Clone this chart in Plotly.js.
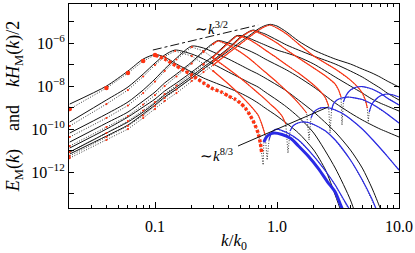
<!DOCTYPE html>
<html><head><meta charset="utf-8">
<script src="https://cdn.plot.ly/plotly-3.0.1.min.js"></script>
<style>html,body{margin:0;padding:0;background:#fff}#c{width:415px;height:253px}</style>
</head><body><div id="c"></div>
<script>
// ---- snapshot 1 (earliest) ----
const s1_kE = [0.02,0.04,0.06,0.08,0.1,0.12,0.15,0.2,0.25,0.3,0.4,0.5,0.6,0.7,0.8,0.88,1,1.2,1.5,2,3,4,5,6,7,8,10];
const s1_E  = [7.10e-12,4.88e-11,1.58e-10,5.15e-10,1.35e-9,3.18e-9,7.48e-9,2.43e-8,6.38e-8,1.35e-7,4.39e-7,1.15e-6,2.43e-6,4.62e-6,6.73e-6,7.65e-6,6.38e-6,3.36e-6,1.28e-6,4.88e-7,1.86e-7,1.09e-7,6.38e-8,4.16e-8,2.71e-8,1.77e-8,9.27e-9];
const s1_kHp = [0.02,0.04,0.06,0.08,0.1,0.12,0.15,0.2,0.25,0.3,0.4,0.5,0.6,0.7,0.8,0.88,1,1.2,1.5,2,3,4,4.6,5,5.3,5.5];
const s1_Hp  = [4.62e-12,3.18e-11,1.03e-10,3.36e-10,8.79e-10,2.07e-9,4.88e-9,1.77e-8,4.62e-8,9.79e-8,3.54e-7,9.27e-7,2.07e-6,3.94e-6,6.04e-6,7.10e-6,5.15e-6,2.71e-6,9.27e-7,2.56e-7,6.38e-8,1.96e-8,9.27e-9,4.88e-9,2.31e-9,9.79e-10];
const s1_kDip = [5.6], s1_dip = [2.19e-10];
const s1_kHn = [5.7,6,6.5,7,7.5,8,9,10];
const s1_Hn  = [6.38e-10,1.50e-9,2.56e-9,3.54e-9,4.16e-9,4.39e-9,3.94e-9,3.18e-9];

// ---- snapshot 2 ----
const s2_kE = [0.02,0.04,0.06,0.08,0.1,0.12,0.15,0.2,0.25,0.3,0.4,0.5,0.6,0.64,0.7,0.8,1,1.2,1.5,2,3,4,5,6,7,8,10];
const s2_E  = [8.79e-12,6.73e-11,2.19e-10,6.38e-10,1.67e-9,3.94e-9,9.27e-9,3.01e-8,7.91e-8,1.67e-7,6.04e-7,1.96e-6,3.73e-6,4.16e-6,3.54e-6,2.71e-6,1.43e-6,8.34e-7,4.88e-7,2.56e-7,1.09e-7,5.15e-8,2.71e-8,1.43e-8,8.34e-9,4.88e-9,2.31e-9];
const s2_kHp = [0.02,0.04,0.06,0.08,0.1,0.12,0.15,0.2,0.25,0.3,0.4,0.5,0.6,0.64,0.7,0.8,1,1.2,1.5,2,2.5,3,3.2,3.35];
const s2_Hp  = [5.73e-12,4.39e-11,1.43e-10,4.39e-10,1.21e-9,2.86e-9,7.10e-9,2.43e-8,6.38e-8,1.43e-7,5.43e-7,1.77e-6,3.54e-6,3.94e-6,3.18e-6,2.19e-6,1.03e-6,4.88e-7,2.07e-7,7.10e-8,3.01e-8,1.28e-8,6.73e-9,3.18e-9];
const s2_kDip = [3.41], s2_dip = [1.58e-10];
const s2_kHn = [3.5,3.7,4,4.5,5,5.5,6,7,8,10];
const s2_Hn  = [1.86e-9,3.94e-9,6.73e-9,9.27e-9,9.79e-9,8.79e-9,7.48e-9,4.88e-9,2.86e-9,1.35e-9];

// ---- snapshot 3 ----
const s3_kE = [0.02,0.04,0.06,0.08,0.1,0.12,0.15,0.2,0.25,0.3,0.4,0.47,0.55,0.6,0.7,0.8,1,1.2,1.5,2,3,4,5,6,7,8,10];
const s3_E  = [1.35e-11,1.03e-10,3.73e-10,1.09e-9,2.56e-9,6.04e-9,1.43e-8,4.62e-8,1.21e-7,2.56e-7,1.15e-6,2.31e-6,2.07e-6,1.67e-6,1.15e-6,8.34e-7,4.88e-7,3.54e-7,2.31e-7,1.09e-7,2.71e-8,1.03e-8,4.88e-9,2.56e-9,1.67e-9,1.21e-9,7.10e-10];
const s3_kHp = [0.02,0.04,0.06,0.08,0.1,0.12,0.15,0.2,0.25,0.3,0.4,0.47,0.55,0.6,0.7,0.8,1,1.2,1.5,2,2.3,2.5,2.65];
const s3_Hp  = [8.79e-12,6.73e-11,2.43e-10,7.48e-10,1.86e-9,4.39e-9,1.09e-8,3.73e-8,1.03e-7,2.31e-7,1.03e-6,2.19e-6,1.77e-6,1.43e-6,8.34e-7,4.88e-7,2.07e-7,9.79e-8,4.16e-8,1.15e-8,5.43e-9,2.86e-9,1.21e-9];
const s3_kDip = [2.72], s3_dip = [6.73e-11];
const s3_kHn = [2.8,2.9,3.1,3.4,3.8,4.2,5,6,7,8,10];
const s3_Hn  = [7.91e-10,1.50e-9,2.31e-9,2.86e-9,3.18e-9,3.01e-9,2.43e-9,1.50e-9,8.79e-10,5.15e-10,1.96e-10];

// ---- snapshot 4 ----
const s4_kE = [0.02,0.04,0.06,0.08,0.1,0.12,0.15,0.2,0.25,0.3,0.33,0.4,0.5,0.6,0.7,0.8,1,1.2,1.5,2,3,4,5,6,7,8,10];
const s4_E  = [2.56e-11,1.96e-10,6.38e-10,2.07e-9,5.43e-9,1.43e-8,3.73e-8,1.35e-7,4.39e-7,1.03e-6,1.35e-6,1.03e-6,6.73e-7,4.39e-7,2.86e-7,1.86e-7,9.79e-8,5.73e-8,2.71e-8,9.27e-9,1.67e-9,5.73e-10,2.71e-10,1.58e-10,1.03e-10,7.48e-11,4.39e-11];
const s4_kHp = [0.02,0.04,0.06,0.08,0.1,0.12,0.15,0.2,0.25,0.3,0.33,0.4,0.5,0.6,0.7,0.8,1,1.2,1.4,1.6,1.75];
const s4_Hp  = [1.67e-11,1.28e-10,4.16e-10,1.43e-9,3.94e-9,1.03e-8,2.86e-8,1.15e-7,3.94e-7,9.27e-7,1.28e-6,8.34e-7,3.94e-7,1.86e-7,8.79e-8,4.62e-8,1.58e-8,6.04e-9,2.56e-9,1.09e-9,5.73e-10];
const s4_kDip = [1.83], s4_dip = [3.18e-11];
const s4_kHn = [1.9,2,2.2,2.4,2.7,3,3.5,4,5,6,7,8,10];
const s4_Hn  = [3.36e-10,6.38e-10,9.27e-10,1.03e-9,9.79e-10,7.91e-10,5.15e-10,3.01e-10,1.03e-10,3.54e-11,1.35e-11,5.73e-12,1.28e-12];

// ---- snapshot 5 ----
const s5_kE = [0.02,0.04,0.06,0.08,0.1,0.12,0.15,0.2,0.25,0.3,0.4,0.5,0.6,0.7,0.8,1,1.2,1.5,2,3,4,5,6,7,7.5];
const s5_E  = [6.73e-11,5.15e-10,1.86e-9,6.73e-9,2.19e-8,6.38e-8,2.07e-7,7.48e-7,6.04e-7,3.94e-7,1.86e-7,9.79e-8,5.73e-8,3.73e-8,2.43e-8,1.15e-8,6.04e-9,2.31e-9,6.38e-10,7.48e-11,1.09e-11,1.58e-12,1.86e-13,2.19e-14,7.48e-15];
const s5_kHp = [0.02,0.04,0.06,0.08,0.1,0.12,0.15,0.2,0.25,0.3,0.4,0.5,0.6,0.7,0.8,0.9,1,1.1,1.18];
const s5_Hp  = [4.39e-11,3.36e-10,1.28e-9,4.88e-9,1.67e-8,5.15e-8,1.77e-7,6.73e-7,4.39e-7,2.07e-7,6.38e-8,2.43e-8,1.03e-8,4.88e-9,2.56e-9,1.35e-9,7.91e-10,4.16e-10,1.77e-10];
const s5_kDip = [1.23], s5_dip = [7.91e-12];
const s5_kHn = [1.28,1.35,1.45,1.6,1.8,2,2.5,3,4,5,6,6.5,7];
const s5_Hn  = [8.34e-11,1.43e-10,1.86e-10,2.19e-10,2.07e-10,1.67e-10,8.34e-11,3.18e-11,3.73e-12,4.39e-13,5.73e-14,1.96e-14,7.48e-15];

// ---- snapshot 6 ----
const s6_kE = [0.02,0.04,0.06,0.08,0.1,0.12,0.146,0.2,0.25,0.3,0.4,0.5,0.6,0.7,0.8,1,1.2,1.5,2,3,4,4.5];
const s6_E  = [2.19e-10,2.31e-9,9.27e-9,3.73e-8,1.21e-7,2.86e-7,4.88e-7,3.18e-7,1.86e-7,1.09e-7,4.62e-8,2.43e-8,1.43e-8,9.27e-9,5.43e-9,2.31e-9,1.09e-9,3.73e-10,6.73e-11,1.58e-12,5.15e-14,7.48e-15];
const s6_kHp = [0.02,0.04,0.06,0.08,0.1,0.12,0.146,0.2,0.25,0.3,0.4,0.5,0.6,0.7,0.75,0.8];
const s6_Hp  = [1.43e-10,1.50e-9,6.73e-9,2.86e-8,9.79e-8,2.43e-7,4.39e-7,2.56e-7,1.09e-7,5.15e-8,1.28e-8,3.94e-9,1.35e-9,4.62e-10,1.77e-10,5.43e-11];
const s6_kDip = [0.83], s6_dip = [3.73e-12];
const s6_kHn = [0.86,0.9,0.95,1,1.2,1.5,2,2.5,3,3.5,4,4.3];
const s6_Hn  = [3.18e-11,6.73e-11,9.27e-11,1.03e-10,7.10e-11,3.18e-11,5.73e-12,1.15e-12,2.56e-13,5.73e-14,1.58e-14,6.73e-15];

// ---- snapshot 7 (latest, thick) ----
const s7_kE = [0.02,0.04,0.06,0.08,0.1,0.12,0.15,0.2,0.25,0.3,0.4,0.5,0.6,0.7,0.8,1,1.5,2,2.5,3,3.5];
const s7_E  = [1.50e-9,1.03e-8,5.15e-8,1.86e-7,3.01e-7,2.31e-7,1.09e-7,4.62e-8,2.43e-8,1.58e-8,8.34e-9,4.88e-9,2.86e-9,1.67e-9,9.79e-10,4.16e-10,6.73e-11,1.09e-11,1.28e-12,8.79e-14,7.48e-15];
const s7_kHp = [0.02,0.04,0.06,0.08,0.1,0.12,0.15,0.2,0.25,0.3,0.35,0.4,0.45,0.5,0.55,0.6,0.65,0.7,0.73,0.75];
const s7_Hp  = [8.79e-10,8.34e-9,4.16e-8,1.50e-7,2.86e-7,1.86e-7,8.79e-8,3.36e-8,1.43e-8,7.48e-9,5.43e-9,3.54e-9,2.56e-9,1.67e-9,9.79e-10,4.62e-10,1.96e-10,6.73e-11,2.31e-11,7.91e-12];
const s7_kDip = [0.77], s7_dip = [2.19e-12];
const s7_kHn = [0.78,0.82,0.88,0.95,1.1,1.3,1.5,1.8,2.2,2.6,3,3.3,3.6];
const s7_Hn  = [2.56e-11,4.39e-11,6.04e-11,6.73e-11,5.73e-11,3.73e-11,1.67e-11,5.73e-12,1.42e-12,3.54e-13,1.21e-13,3.36e-14,1.03e-14];

// ---- guide lines ----
const guide32_k = [0.096, 0.70], guide32_E = [4.88e-7, 7.10e-6];
const guide83_k = [0.479, 2.62], guide83_E = [1.67e-11, 1.09e-9];

// ---- ticks ----
const xMajor = [0.1, 1, 10];
const xLabels = ['0.1', '1.0', '10.0'];
const xMinor = [0.02,0.03,0.04,0.05,0.06,0.07,0.08,0.09,0.2,0.3,0.4,0.5,0.6,0.7,0.8,0.9,2,3,4,5,6,7,8,9];
const yMajor = [1e-12,1e-10,1e-8,1e-6];
const yLabels = ['10<sup>\u221212</sup>','10<sup>\u221210</sup>','10<sup>\u22128</sup>','10<sup>\u22126</sup>'];
const yMinor = [1e-13,1e-11,1e-9,1e-7,1e-5];

const snaps = [
  {kE:s1_kE,E:s1_E,kHp:s1_kHp,Hp:s1_Hp,kDip:s1_kDip,dip:s1_dip,kHn:s1_kHn,Hn:s1_Hn,thick:false},
  {kE:s2_kE,E:s2_E,kHp:s2_kHp,Hp:s2_Hp,kDip:s2_kDip,dip:s2_dip,kHn:s2_kHn,Hn:s2_Hn,thick:false},
  {kE:s3_kE,E:s3_E,kHp:s3_kHp,Hp:s3_Hp,kDip:s3_kDip,dip:s3_dip,kHn:s3_kHn,Hn:s3_Hn,thick:false},
  {kE:s4_kE,E:s4_E,kHp:s4_kHp,Hp:s4_Hp,kDip:s4_kDip,dip:s4_dip,kHn:s4_kHn,Hn:s4_Hn,thick:false},
  {kE:s5_kE,E:s5_E,kHp:s5_kHp,Hp:s5_Hp,kDip:s5_kDip,dip:s5_dip,kHn:s5_kHn,Hn:s5_Hn,thick:false},
  {kE:s6_kE,E:s6_E,kHp:s6_kHp,Hp:s6_Hp,kDip:s6_kDip,dip:s6_dip,kHn:s6_kHn,Hn:s6_Hn,thick:false},
  {kE:s7_kE,E:s7_E,kHp:s7_kHp,Hp:s7_Hp,kDip:s7_kDip,dip:s7_dip,kHn:s7_kHn,Hn:s7_Hn,thick:true}
];

const RED = '#ff3311', BLUE = '#2a2ae6', BLK = '#111111';
const traces = [];
snaps.forEach(s => {
  traces.push({x:s.kE, y:s.E, mode:'lines', hoverinfo:'skip',
    line:{color:BLK, width:1, shape:'spline', smoothing:0.7}});
});
snaps.forEach(s => {
  traces.push({x:[...s.kHp, ...s.kDip, ...s.kHn], y:[...s.Hp, ...s.dip, ...s.Hn],
    mode:'lines', hoverinfo:'skip', line:{color:'#222', width:0.9, dash:'1px,1.6px'}});
});
snaps.forEach(s => {
  const cut = s.thick ? 0.1 : 0.3;
  const lowK = s.kHp.filter(k => k <= cut);
  const lowH = s.Hp.filter((v, i) => s.kHp[i] <= cut);
  const hiK = s.kHp.filter(k => k >= cut);
  const hiH = s.Hp.filter((v, i) => s.kHp[i] >= cut);
  traces.push({x:lowK, y:lowH, mode:'markers', hoverinfo:'skip',
    marker:{color:RED, size:s.thick ? 4.5 : 2.2}});
  traces.push({x:hiK, y:hiH, mode:'lines', hoverinfo:'skip',
    line:{color:RED, width:s.thick ? 3.5 : 1.1, shape:'spline', smoothing:0.6, dash:s.thick ? '3px,2px' : 'solid'}});
  traces.push({x:s.kHn, y:s.Hn, mode:'lines', hoverinfo:'skip',
    line:{color:BLUE, width:s.thick ? 3 : 1.2, shape:'spline', smoothing:0.6}});
});
traces.push({x:guide32_k, y:guide32_E, mode:'lines', hoverinfo:'skip', line:{color:BLK, width:1, dash:'dashdot'}});
traces.push({x:guide83_k, y:guide83_E, mode:'lines', hoverinfo:'skip', line:{color:BLK, width:1}});

const axisCommon = {type:'log', ticks:'inside', tickcolor:'#000', showline:true, linecolor:'#000',
  linewidth:1, mirror:'ticks', showgrid:false, zeroline:false};

const layout = {
  width:415, height:253, margin:{l:69, r:16, t:4, b:45},
  paper_bgcolor:'#fff', plot_bgcolor:'#fff', showlegend:false,
  font:{family:'Liberation Serif, serif', size:16, color:'#000'},
  xaxis:Object.assign({}, axisCommon, {
    range:[-1.705, 1], tickmode:'array', tickvals:xMajor, ticktext:xLabels, ticklen:6,
    minor:{tickmode:'array', tickvals:xMinor, ticks:'inside', ticklen:3, tickcolor:'#000', showgrid:false},
    ticklabelstandoff:4,
    title:{text:'<i>k</i>/<i>k</i><sub>0</sub>', font:{size:17}, standoff:2}
  }),
  yaxis:Object.assign({}, axisCommon, {
    range:[-13.66, -4.17], tickmode:'array', tickvals:yMajor, ticktext:yLabels, ticklen:5,
    minor:{tickmode:'array', tickvals:yMinor, ticks:'inside', ticklen:5, tickcolor:'#000', showgrid:false},
    title:{text:'<i>E</i><sub>M</sub>(<i>k</i>)\u00a0\u00a0\u00a0 and \u00a0\u00a0\u00a0<i>kH</i><sub>M</sub>(<i>k</i>)/2', font:{size:18}, standoff:6}
  }),
  annotations:[
    {x:Math.log10(0.293), y:Math.log10(5.4e-6), xref:'x', yref:'y', text:'\u223C<i>k</i><sup>3/2</sup>',
     showarrow:false, font:{size:15}},
    {x:Math.log10(0.322), y:Math.log10(6.4e-12), xref:'x', yref:'y', text:'\u223C<i>k</i><sup>8/3</sup>',
     showarrow:false, font:{size:15}}
  ]
};

Plotly.newPlot('c', traces, layout, {displayModeBar:false, staticPlot:true});
</script>
</body></html>
